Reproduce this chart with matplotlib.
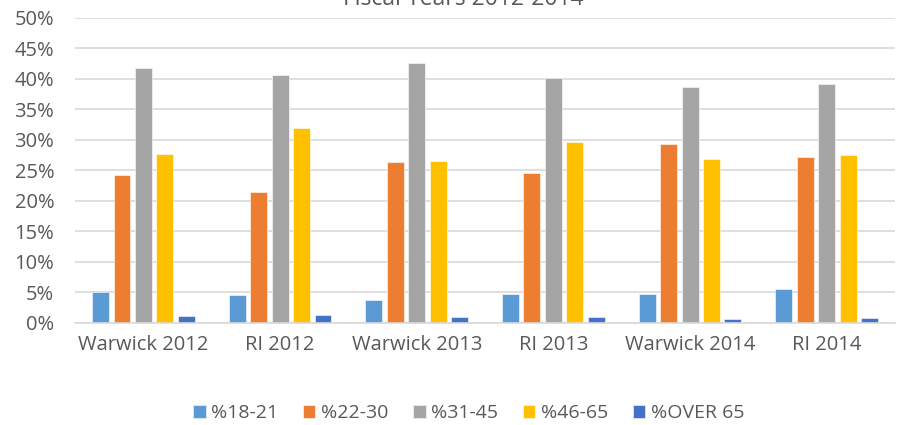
import matplotlib

matplotlib.use("Agg")
import matplotlib.pyplot as plt
import numpy as np

categories = ["Warwick 2012", "RI 2012", "Warwick 2013", "RI 2013", "Warwick 2014", "RI 2014"]
series_names = ["%18-21", "%22-30", "%31-45", "%46-65", "%OVER 65"]
age_18_21 = [5.0, 4.65, 3.8, 4.7, 4.8, 5.6]
age_22_30 = [24.3, 21.5, 26.3, 24.6, 29.3, 27.2]
age_31_45 = [41.8, 40.6, 42.6, 40.1, 38.6, 39.1]
age_46_65 = [27.7, 32.0, 26.5, 29.7, 26.8, 27.5]
age_over_65 = [1.15, 1.27, 0.95, 1.0, 0.6, 0.8]
colors = ["#5B9BD5", "#ED7D31", "#A5A5A5", "#FFC000", "#4472C4"]

text_color = "#595959"
plt.rcParams["font.family"] = ["Open Sans", "DejaVu Sans"]

fig = plt.figure(figsize=(9.05, 4.25), dpi=100)
ax = fig.add_axes([0.083, 0.24, 0.906, 0.718])

x = np.arange(len(categories))
pitch = 0.157
width = 0.124
all_series = [age_18_21, age_22_30, age_31_45, age_46_65, age_over_65]
for i, (name, vals, col) in enumerate(zip(series_names, all_series, colors)):
    ax.bar(x + (i - 2) * pitch, np.array(vals) / 100, width=width, color=col,
           edgecolor="white", linewidth=0.4, label=name, zorder=3)

ax.set_xlim(-0.5, len(categories) - 0.5)
ax.set_ylim(0, 0.5)
ax.set_yticks(np.arange(0, 0.51, 0.05))
ax.set_yticklabels([f"{int(round(v * 100))}%" for v in np.arange(0, 0.51, 0.05)])
ax.set_xticks(x)
ax.set_xticklabels(categories)
ax.tick_params(axis="both", length=0, labelsize=14.5, colors=text_color)
ax.tick_params(axis="x", pad=9)
ax.tick_params(axis="y", pad=15)
ax.grid(axis="y", color="#D9D9D9", linewidth=1.2, zorder=0)
for side in ("top", "right", "left"):
    ax.spines[side].set_visible(False)
ax.spines["bottom"].set_color("#D9D9D9")
ax.spines["bottom"].set_linewidth(1.2)
ax.spines["bottom"].set_zorder(4)

# title sits mostly above the canvas, as in the source image
fig.text(0.512, 0.988, "Fiscal Years 2012-2014", ha="center", va="baseline",
         fontsize=16.5, color=text_color)

fig.legend(loc="center", bbox_to_anchor=(0.518, 0.028), ncol=5, frameon=False,
           fontsize=14, handlelength=0.65, handleheight=0.65, handletextpad=0.3,
           columnspacing=1.25, labelcolor=text_color)

fig.savefig("out.png", dpi=100)
